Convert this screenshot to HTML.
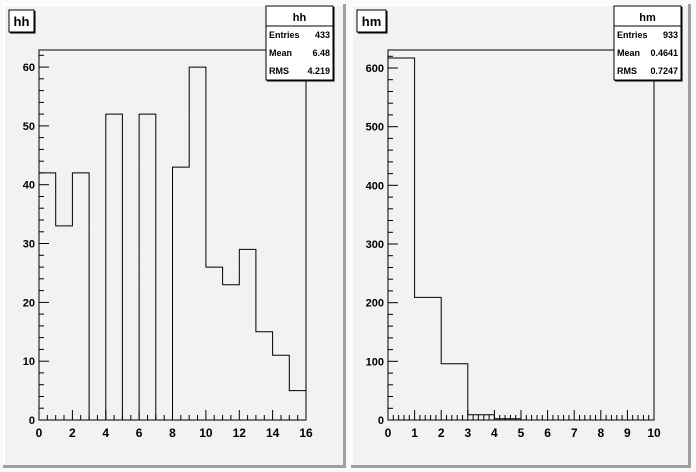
<!DOCTYPE html>
<html><head><meta charset="utf-8"><style>
body{margin:0;background:#fff;}
svg{display:block;font-family:"Liberation Sans",Arial,sans-serif;font-weight:bold;}
</style></head><body>
<svg id="s" width="696" height="472" xmlns="http://www.w3.org/2000/svg">
<rect x="0" y="0" width="696" height="472" fill="#fafafa"/>
</svg>
<script>
const s=document.getElementById('s');let h='';
function pad(x0,x1,y0,y1){
 h+=`<rect x="${x0}" y="${y0}" width="${x1-x0}" height="${y1-y0}" fill="#f2f2f2"/>`;
 h+=`<path d="M${x0+1},${y1} V${y0+1} H${x1}" stroke="#fff" stroke-width="2" fill="none"/>`;
 h+=`<path d="M${x0},${y1-1.5} H${x1-1.5} V${y0}" stroke="#a0a0a0" stroke-width="3" fill="none"/>`;
}
pad(3,346,4,468);pad(351,691,4,468);
function hist(o){
 const {fx0,fx1,fy0,fy1,xmax,ymaxTop,vals,xmaj,xmin,ymaj,ymin,ylabmax,xlabs}=o;
 const sx=(fx1-fx0)/xmax, sy=(fy0-fy1)/ymaxTop;
 h+=`<rect x="${fx0}" y="${fy1}" width="${fx1-fx0}" height="${fy0-fy1}" fill="none" stroke="#000"/>`;
 let d=`M${fx0},${fy0}`;
 vals.forEach((v,i)=>{const y=(fy0-v*sy).toFixed(1);d+=` V${y} H${(fx0+(i+1)*sx).toFixed(1)}`;});
 d+=` V${fy0}`;
 h+=`<path d="${d}" fill="none" stroke="#000"/>`;
 for(let v=0;v<=xmax+1e-9;v+=xmin){const x=(fx0+v*sx).toFixed(1);const maj=Math.abs(v/xmaj-Math.round(v/xmaj))<1e-6;
  h+=`<line x1="${x}" y1="${fy0}" x2="${x}" y2="${fy0-(maj?10:5)}" stroke="#000"/>`;}
 xlabs.forEach(v=>{h+=`<text x="${fx0+v*sx}" y="${fy0+17}" font-size="12" text-anchor="middle">${v}</text>`;});
 for(let v=0;v<=ymaxTop;v+=ymin){const y=(fy0-v*sy).toFixed(1);const maj=Math.abs(v/ymaj-Math.round(v/ymaj))<1e-6;
  h+=`<line x1="${fx0}" y1="${y}" x2="${fx0+(maj?10:5)}" y2="${y}" stroke="#000"/>`;
  if(maj&&v<=ylabmax)h+=`<text x="${fx0-4}" y="${+y+4}" font-size="11" text-anchor="end">${v}</text>`;}
}
hist({fx0:39,fx1:306,fy0:420,fy1:50,xmax:16,ymaxTop:62.9,vals:[42,33,42,0,52,0,52,0,43,60,26,23,29,15,11,5],xmaj:2,xmin:0.5,ymaj:10,ymin:2,ylabmax:60,xlabs:[0,2,4,6,8,10,12,14,16]});
hist({fx0:388,fx1:654,fy0:420,fy1:50,xmax:10,ymaxTop:630.7,vals:[617,209,96,9,2,0,0,0,0,0],xmaj:1,xmin:0.2,ymaj:100,ymin:20,ylabmax:600,xlabs:[0,1,2,3,4,5,6,7,8,9,10]});
function title(x,y,w,t){h+=`<rect x="${x}" y="${y}" width="${w}" height="22" fill="#fff" stroke="#000"/><path d="M${x+1},${y+23}H${x+w+1}V${y+1}" stroke="#000" fill="none"/><text x="${x+w/2}" y="${y+16}" font-size="13" text-anchor="middle">${t}</text>`;}
title(9,10,25,'hh');title(357,10,29,'hm');
function stats(x,t,a,b,c){const y=6,w=67,hh=74;
 h+=`<rect x="${x}" y="${y}" width="${w}" height="${hh}" fill="#fff" stroke="#000"/><path d="M${x+1},${y+hh+1}H${x+w+1}V${y+1}" stroke="#000" fill="none"/>`;
 h+=`<line x1="${x}" y1="${y+20}" x2="${x+w}" y2="${y+20}" stroke="#000"/>`;
 h+=`<text x="${x+w/2}" y="${y+15}" font-size="11" text-anchor="middle">${t}</text>`;
 [['Entries',a],['Mean',b],['RMS',c]].forEach((r,i)=>{const yy=y+32+i*18;
  h+=`<text x="${x+3}" y="${yy}" font-size="9">${r[0]}</text><text x="${x+w-3}" y="${yy}" font-size="9" text-anchor="end">${r[1]}</text>`;});
}
stats(266,'hh','433','6.48','4.219');stats(614,'hm','933','0.4641','0.7247');
s.innerHTML+=h;
</script>
</body></html>
